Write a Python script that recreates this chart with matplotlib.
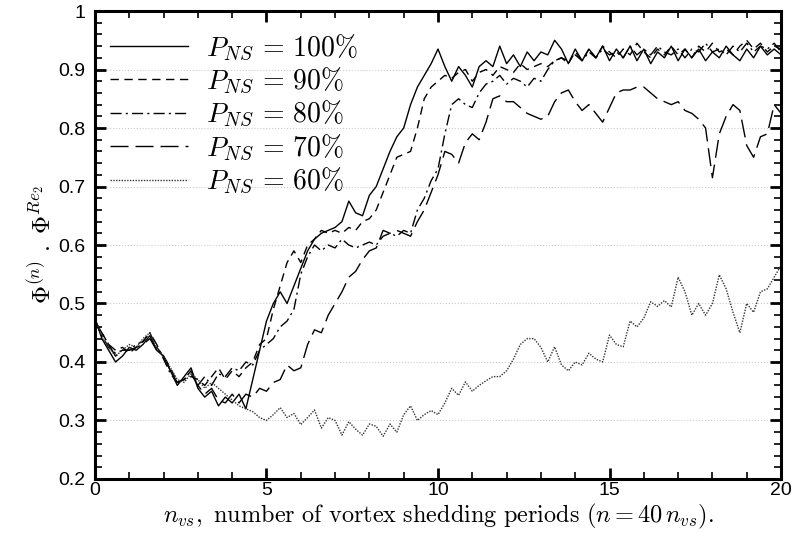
import matplotlib
matplotlib.use("Agg")
import matplotlib.pyplot as plt
from matplotlib.ticker import MultipleLocator, FormatStrFormatter

plt.rcParams['mathtext.fontset'] = 'cm'
plt.rcParams['font.family'] = 'Liberation Sans'

# Datos (x cada 0.2 periodos)
n_vs = [round(0.2 * i, 1) for i in range(101)]

p100 = [0.475, 0.44, 0.42, 0.40, 0.41, 0.425, 0.42, 0.43, 0.445, 0.42,
        0.41, 0.385, 0.36, 0.375, 0.39, 0.355, 0.34, 0.35, 0.325, 0.34,
        0.33, 0.345, 0.32, 0.37, 0.42, 0.47, 0.50, 0.52, 0.50, 0.53,
        0.56, 0.59, 0.61, 0.62, 0.625, 0.63, 0.64, 0.675, 0.655, 0.65,
        0.685, 0.70, 0.73, 0.76, 0.785, 0.80, 0.84, 0.87, 0.89, 0.91,
        0.935, 0.905, 0.88, 0.905, 0.89, 0.87, 0.905, 0.915, 0.905, 0.94,
        0.91, 0.925, 0.905, 0.93, 0.915, 0.93, 0.925, 0.95, 0.935, 0.91,
        0.935, 0.915, 0.935, 0.92, 0.94, 0.915, 0.935, 0.92, 0.94, 0.915,
        0.935, 0.91, 0.93, 0.92, 0.94, 0.915, 0.935, 0.92, 0.935, 0.915,
        0.93, 0.92, 0.94, 0.925, 0.915, 0.935, 0.92, 0.94, 0.925, 0.935,
        0.925]

p90 = [0.47, 0.45, 0.43, 0.42, 0.425, 0.415, 0.425, 0.435, 0.45, 0.425,
       0.41, 0.39, 0.365, 0.37, 0.375, 0.37, 0.36, 0.375, 0.39, 0.37,
       0.385, 0.375, 0.39, 0.40, 0.43, 0.44, 0.49, 0.53, 0.57, 0.59,
       0.57, 0.60, 0.61, 0.625, 0.62, 0.625, 0.62, 0.63, 0.625, 0.64,
       0.645, 0.66, 0.69, 0.72, 0.75, 0.755, 0.76, 0.80, 0.85, 0.87,
       0.88, 0.89, 0.885, 0.895, 0.90, 0.88, 0.895, 0.90, 0.89, 0.905,
       0.90, 0.895, 0.91, 0.90, 0.905, 0.91, 0.905, 0.915, 0.92, 0.91,
       0.93, 0.915, 0.935, 0.92, 0.94, 0.93, 0.92, 0.935, 0.925, 0.945,
       0.93, 0.92, 0.935, 0.925, 0.94, 0.925, 0.935, 0.92, 0.94, 0.93,
       0.945, 0.93, 0.935, 0.925, 0.94, 0.95, 0.935, 0.945, 0.93, 0.94,
       0.935]

p80 = [0.47, 0.445, 0.425, 0.415, 0.42, 0.42, 0.43, 0.435, 0.45, 0.43,
       0.405, 0.38, 0.365, 0.37, 0.385, 0.36, 0.375, 0.36, 0.38, 0.375,
       0.39, 0.385, 0.40, 0.395, 0.42, 0.43, 0.44, 0.46, 0.47, 0.49,
       0.55, 0.58, 0.60, 0.59, 0.60, 0.595, 0.61, 0.60, 0.595, 0.60,
       0.605, 0.60, 0.615, 0.62, 0.615, 0.625, 0.62, 0.66, 0.68, 0.71,
       0.73, 0.79, 0.84, 0.85, 0.84, 0.835, 0.86, 0.875, 0.88, 0.89,
       0.875, 0.885, 0.88, 0.87, 0.885, 0.88, 0.90, 0.915, 0.92, 0.915,
       0.925, 0.915, 0.93, 0.92, 0.935, 0.925, 0.93, 0.92, 0.94, 0.925,
       0.935, 0.925, 0.94, 0.93, 0.925, 0.935, 0.92, 0.935, 0.93, 0.945,
       0.93, 0.935, 0.925, 0.94, 0.93, 0.945, 0.93, 0.94, 0.935, 0.945,
       0.93]

p70 = [0.47, 0.45, 0.43, 0.41, 0.42, 0.42, 0.425, 0.43, 0.44, 0.42,
       0.41, 0.385, 0.365, 0.37, 0.38, 0.36, 0.345, 0.355, 0.335, 0.33,
       0.345, 0.33, 0.345, 0.34, 0.355, 0.35, 0.365, 0.37, 0.395, 0.385,
       0.39, 0.43, 0.455, 0.45, 0.48, 0.50, 0.52, 0.545, 0.555, 0.575,
       0.59, 0.595, 0.625, 0.62, 0.625, 0.62, 0.615, 0.64, 0.66, 0.69,
       0.72, 0.76, 0.755, 0.74, 0.775, 0.79, 0.78, 0.81, 0.85, 0.855,
       0.845, 0.845, 0.835, 0.825, 0.82, 0.815, 0.82, 0.845, 0.86, 0.865,
       0.845, 0.83, 0.84, 0.825, 0.81, 0.835, 0.86, 0.865, 0.865, 0.87,
       0.87, 0.86, 0.85, 0.845, 0.84, 0.845, 0.83, 0.825, 0.815, 0.80,
       0.715, 0.79, 0.82, 0.84, 0.83, 0.77, 0.75, 0.785, 0.79, 0.84,
       0.825]

p60 = [0.475, 0.445, 0.425, 0.41, 0.42, 0.43, 0.425, 0.44, 0.45, 0.425,
       0.41, 0.39, 0.37, 0.365, 0.38, 0.37, 0.355, 0.365, 0.355, 0.345,
       0.335, 0.325, 0.32, 0.315, 0.305, 0.30, 0.31, 0.322, 0.305, 0.312,
       0.293, 0.305, 0.318, 0.287, 0.305, 0.30, 0.275, 0.298, 0.285, 0.275,
       0.294, 0.29, 0.273, 0.294, 0.28, 0.31, 0.325, 0.30, 0.31, 0.317,
       0.31, 0.33, 0.355, 0.343, 0.366, 0.35, 0.36, 0.368, 0.375, 0.375,
       0.385, 0.405, 0.43, 0.44, 0.44, 0.425, 0.40, 0.426, 0.395, 0.385,
       0.40, 0.395, 0.415, 0.405, 0.40, 0.446, 0.43, 0.426, 0.47, 0.46,
       0.475, 0.503, 0.495, 0.505, 0.494, 0.545, 0.52, 0.48, 0.50, 0.48,
       0.50, 0.549, 0.525, 0.485, 0.45, 0.50, 0.485, 0.52, 0.525, 0.545,
       0.565]

series = [p100, p90, p80, p70, p60]
etiquetas = [r'$P_{NS}\,=\,100\%$', r'$P_{NS}\,=\,90\%$', r'$P_{NS}\,=\,80\%$',
             r'$P_{NS}\,=\,70\%$', r'$P_{NS}\,=\,60\%$']
estilos = ['-', (0, (6, 4)), (0, (8, 3, 1.5, 3)), (0, (13, 5)), (0, (1, 1))]
colores = ['black', 'black', 'black', 'black', '#333333']

fig = plt.figure(figsize=(7.96, 5.43), dpi=100)
ax = fig.add_axes([0.1193, 0.1179, 0.8619, 0.8618])

for y, lab, ls, c in zip(series, etiquetas, estilos, colores):
    ax.plot(n_vs, y, color=c, linestyle=ls, linewidth=1.0, label=lab)

ax.set_xlim(0, 20)
ax.set_ylim(0.2, 1.0)
ax.xaxis.set_major_locator(MultipleLocator(5))
ax.xaxis.set_minor_locator(MultipleLocator(1))
ax.yaxis.set_major_locator(MultipleLocator(0.1))
ax.yaxis.set_minor_locator(MultipleLocator(0.02))
ax.yaxis.set_major_formatter(FormatStrFormatter('%g'))
ax.tick_params(which='both', direction='in', top=True, right=True, labelsize=14)
ax.tick_params(axis='x', pad=2)
ax.tick_params(axis='y', pad=7)
ax.tick_params(which='major', length=8, width=2)
ax.tick_params(which='minor', length=5, width=1.2)
for s in ax.spines.values():
    s.set_linewidth(2.2)
ax.grid(axis='y', which='major', linestyle=':', color='#cccccc', linewidth=0.8)

ax.set_xlabel(r'$n_{vs}\mathrm{,\ number\ of\ vortex\ shedding\ periods\ }(n = 40\,n_{vs}).$',
              fontsize=17.5, labelpad=2)
ax.set_ylabel(r'$\boldsymbol{\Phi}^{(n)}\ .\ \boldsymbol{\Phi}^{Re_2}$', fontsize=18, labelpad=2)

ax.legend(loc='upper left', frameon=False, fontsize=20, handlelength=2.8,
          handletextpad=0.65, labelspacing=0.12, borderpad=0, borderaxespad=0,
          bbox_to_anchor=(0.022, 0.954))

plt.savefig('out.png', dpi=100)
